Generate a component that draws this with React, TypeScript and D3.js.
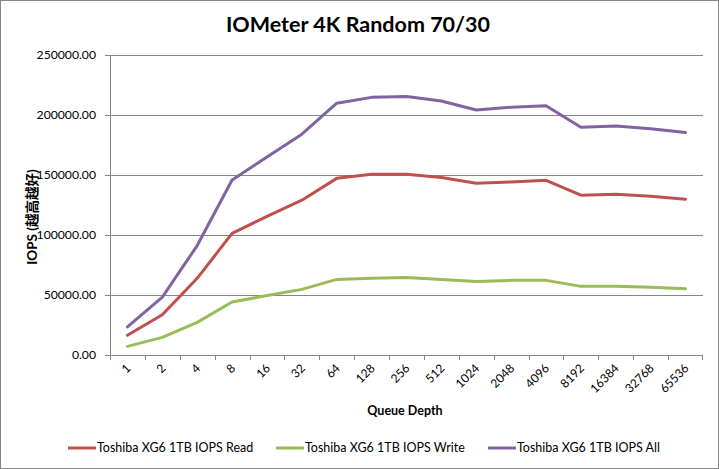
import React from "react";
import * as d3 from "d3";

const categories = ["1","2","4","8","16","32","64","128","256","512","1024","2048","4096","8192","16384","32768","65536"];
const readValues = [16400,33600,63900,101400,115500,129000,147200,150600,150600,148000,143200,144200,145600,133200,133900,132300,129800];
const writeValues = [7200,14700,27200,44200,49500,54700,63000,64000,64600,63000,61200,62200,62200,57200,57200,56400,55300];
const allValues = [23400,48200,91200,145800,165000,184000,209800,214700,215500,211700,204200,206500,207700,189800,190800,188600,185500];
const yTicks = [0,50000,100000,150000,200000,250000];
const seriesNames = ["Toshiba XG6 1TB IOPS Read","Toshiba XG6 1TB IOPS Write","Toshiba XG6 1TB IOPS All"];
const seriesColors = ["#C0504D","#9BBB59","#8064A2"];

const W = 719, H = 469;
const left = 110, right = 703, top = 55, bottom = 355;
const FONT = "Lato, 'Noto Sans CJK SC', sans-serif";

export default function App() {
  const x = d3.scaleBand<string>().domain(categories).range([left, right]);
  const y = d3.scaleLinear().domain([0, 250000]).range([bottom, top]);
  const line = d3.line<number>().x((_, i) => (x(categories[i]) as number) + x.bandwidth() / 2).y(d => y(d));
  const series = [readValues, writeValues, allValues];
  const legendX = [68, 276, 488];
  return (
    <svg width={W} height={H} style={{ position: "absolute", left: 0, top: 0, background: "#fff" }} fontFamily={FONT}>
      <rect x={0.5} y={0.5} width={W - 1} height={H - 1} fill="#fff" stroke="#868686" />
      <text x={358} y={32} textAnchor="middle" fontSize={21.5} fontWeight="bold">IOMeter 4K Random 70/30</text>
      {yTicks.map(t => (
        <g key={t}>
          {t > 0 && <line x1={left} x2={right} y1={Math.round(y(t)) + 0.5} y2={Math.round(y(t)) + 0.5} stroke="#868686" />}
          <line x1={left - 5} x2={left} y1={Math.round(y(t)) + 0.5} y2={Math.round(y(t)) + 0.5} stroke="#868686" />
          <text x={96} y={y(t) + 4} textAnchor="end" fontSize={12.2}>{d3.format(".2f")(t)}</text>
        </g>
      ))}
      <line x1={left + 0.5} x2={left + 0.5} y1={top} y2={bottom} stroke="#868686" />
      <line x1={left} x2={right} y1={bottom + 0.5} y2={bottom + 0.5} stroke="#868686" />
      {categories.map((c) => (
        <line key={"t" + c} x1={Math.round(x(c) as number) + 0.5} x2={Math.round(x(c) as number) + 0.5} y1={bottom} y2={bottom + 5} stroke="#868686" />
      ))}
      <line x1={right - 0.5} x2={right - 0.5} y1={bottom} y2={bottom + 5} stroke="#868686" />
      {categories.map(c => {
        const cx = (x(c) as number) + x.bandwidth() / 2 + 4;
        const cy = 369;
        return (
          <text key={"l" + c} x={cx} y={cy} textAnchor="end" fontSize={12} transform={`rotate(-45 ${cx} ${cy})`}>{c}</text>
        );
      })}
      <text x={405} y={415} textAnchor="middle" fontSize={12.5} fontWeight="bold">Queue Depth</text>
      <text transform={`translate(37 217) rotate(-90)`} textAnchor="middle" fontSize={13.5} fontWeight="bold">IOPS (越高越好)</text>
      {series.map((s, i) => (
        <path key={"s" + i} d={line(s) as string} fill="none" stroke={seriesColors[i]} strokeWidth={3} strokeLinejoin="round" strokeLinecap="round" />
      ))}
      {seriesNames.map((n, i) => (
        <g key={n}>
          <line x1={legendX[i]} x2={legendX[i] + 28} y1={448} y2={448} stroke={seriesColors[i]} strokeWidth={3} />
          <text x={legendX[i] + 29} y={452} fontSize={12.5}>{n}</text>
        </g>
      ))}
    </svg>
  );
}
